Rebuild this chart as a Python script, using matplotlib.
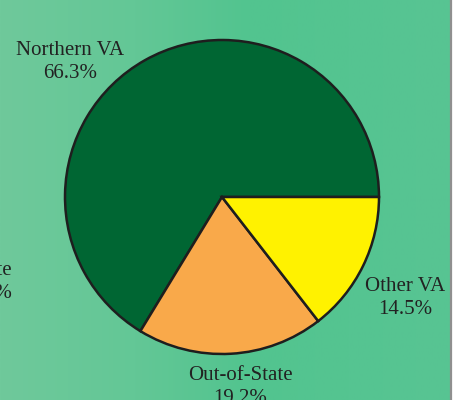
import numpy as np
import matplotlib
matplotlib.use("Agg")
import matplotlib.pyplot as plt
from matplotlib.colors import LinearSegmentedColormap

# data
regions = ["Northern VA", "Out-of-State", "Other VA"]
shares = [66.3, 19.2, 14.5]
slice_colors = ["#006633", "#f9a94a", "#fff200"]
label_pos = [(70, 338), (240, 13), (405, 102)]  # pixel coords, y from bottom

plt.rcParams['font.family'] = ['Liberation Serif', 'DejaVu Serif']

fig = plt.figure(figsize=(4.61, 4.00), dpi=100)
fig.patch.set_facecolor("white")
ax = fig.add_axes([0, 0, 1, 1])

# green gradient background
bg = LinearSegmentedColormap.from_list(
    "bg", [(0, "#6fc99b"), (0.3, "#63c796"), (0.55, "#52c48f"), (1, "#58c493")])
grad = np.linspace(0, 1, 256).reshape(1, -1)
ax.imshow(grad, cmap=bg, extent=(0, 450, 0, 400), aspect="auto", zorder=0)
ax.axvline(451, color="#8f8f8f", lw=1.6, zorder=1)

wedges, _ = ax.pie(shares, colors=slice_colors, startangle=0, counterclock=True,
                   center=(222, 203), radius=157,
                   wedgeprops=dict(edgecolor="#1e1e1e", linewidth=1.8))
for w in wedges:
    w.set_zorder(2)

for name, val, (x, y) in zip(regions, shares, label_pos):
    ax.text(x, y, f"{name}\n{val:.1f}%", ha="center", va="center",
            fontsize=15, color="#222222", linespacing=1.3, zorder=3)

# clipped label from neighbouring panel
ax.text(12, 118, "Out-of-State\n19.2%", ha="right", va="center",
        multialignment="right", fontsize=15, color="#222222", linespacing=1.3)

ax.set_xlim(0, 461)
ax.set_ylim(0, 400)
ax.set_aspect("equal")
ax.axis("off")

fig.savefig("out.png", dpi=100)
